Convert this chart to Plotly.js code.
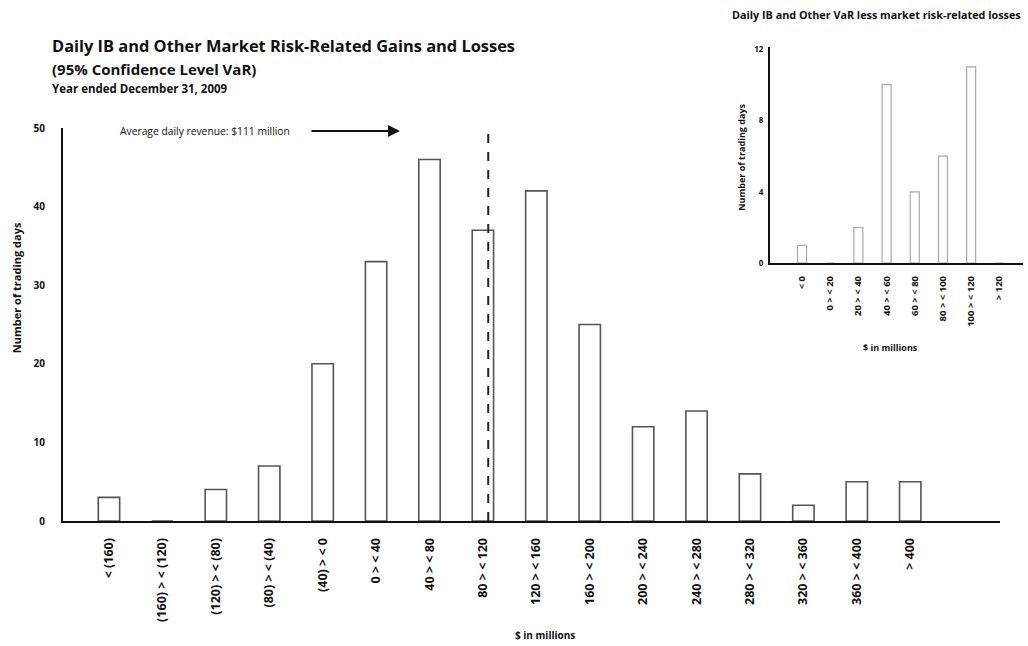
<!DOCTYPE html>
<html>
<head>
<meta charset="utf-8">
<script src="https://cdn.plot.ly/plotly-3.0.1.min.js"></script>
<style>html,body{margin:0;padding:0;background:#fff;}#chart{width:1028px;height:646px;}</style>
</head>
<body>
<div id="chart"></div>
<script>
const categories = ["< (160)", "(160) > < (120)", "(120) > < (80)", "(80) > < (40)", "(40) > < 0", "0 > < 40", "40 > < 80", "80 > < 120", "120 > < 160", "160 > < 200", "200 > < 240", "240 > < 280", "280 > < 320", "320 > < 360", "360 > < 400", "> 400"];
const tradingDays = [3, 0, 4, 7, 20, 33, 46, 37, 42, 25, 12, 14, 6, 2, 5, 5];
const yTicks = [0, 10, 20, 30, 40, 50];
const insetCategories = ["< 0", "0 > < 20", "20 > < 40", "40 > < 60", "60 > < 80", "80 > < 100", "100 > < 120", "> 120"];
const insetDays = [1, 0, 2, 10, 4, 6, 11, 0];
const insetTicks = [0, 4, 8, 12];
const avgRevenueLabel = "Average daily revenue: $111 million";
const avgRevenuePos = 7.1;

const F = "'Open Sans', Lato, sans-serif";
const INK = "#111";

const traces = [
  {type: "bar", x: categories, y: tradingDays, xaxis: "x", yaxis: "y", width: 0.4,
   marker: {color: "#fff", line: {color: "#555", width: 1.6}}, hoverinfo: "x+y"},
  {type: "bar", x: insetCategories, y: insetDays, xaxis: "x2", yaxis: "y2", width: 0.32,
   marker: {color: "#fff", line: {color: "#aaa", width: 1.2}}, hoverinfo: "x+y"}
];

const layout = {
  width: 1028, height: 646,
  margin: {l: 63, r: 5, t: 40, b: 125},
  paper_bgcolor: "#fff", plot_bgcolor: "rgba(0,0,0,0)",
  showlegend: false,
  font: {family: F, color: INK},
  xaxis: {type: "category", domain: [0, 0.976], range: [-0.861, 16.68], showline: true, linecolor: INK, linewidth: 2,
    ticks: "", tickangle: -90, tickfont: {family: F, size: 12.5, color: INK, weight: "bold"}, showgrid: false, zeroline: false,
    ticklabelstandoff: 10, fixedrange: true},
  yaxis: {domain: [0, 0.817], range: [0, 50], tickvals: yTicks, showline: true, linecolor: INK, linewidth: 2,
    ticks: "", tickfont: {family: F, size: 10, color: INK, weight: "bold"}, showgrid: false, zeroline: false,
    ticklabelstandoff: 14, fixedrange: true},
  xaxis2: {type: "category", anchor: "y2", domain: [0.7365, 1], range: [-1.135, 7.84], showline: true, linecolor: INK, linewidth: 2,
    ticks: "", tickangle: -90, tickfont: {family: F, size: 9.5, color: INK, weight: "bold"}, showgrid: false, zeroline: false,
    ticklabelstandoff: 7, fixedrange: true},
  yaxis2: {anchor: "x2", domain: [0.536, 0.985], range: [0, 12.1], tickvals: insetTicks, showline: true, linecolor: INK, linewidth: 2,
    ticks: "", tickfont: {family: F, size: 8, color: INK, weight: "bold"}, showgrid: false, zeroline: false,
    ticklabelstandoff: 3, fixedrange: true},
  shapes: [
    {type: "line", xref: "x", yref: "y", x0: avgRevenuePos, x1: avgRevenuePos, y0: 0, y1: 49.6,
     line: {color: "#222", width: 2, dash: "dash"}}
  ],
  annotations: [
    {xref: "paper", yref: "paper", x: -0.0135, y: 0.9896, xanchor: "left", yanchor: "middle", showarrow: false,
     text: "Daily IB and Other Market Risk-Related Gains and Losses", font: {family: F, size: 16.4, weight: "bold", color: INK}},
    {xref: "paper", yref: "paper", x: -0.0135, y: 0.9397, xanchor: "left", yanchor: "middle", showarrow: false,
     text: "(95% Confidence Level VaR)", font: {family: F, size: 15, weight: "bold", color: INK}},
    {xref: "paper", yref: "paper", x: -0.0135, y: 0.900, xanchor: "left", yanchor: "middle", showarrow: false,
     text: "Year ended December 31, 2009", font: {family: F, size: 11.5, weight: "bold", color: INK}},
    {xref: "paper", yref: "paper", x: 0.0573, y: 0.811, xanchor: "left", yanchor: "middle", showarrow: false,
     text: avgRevenueLabel, font: {family: F, size: 10.3, color: INK}},
    {xref: "paper", yref: "paper", x: 0.351, y: 0.811, ax: -90, ay: 0, showarrow: true, arrowhead: 2, arrowsize: 1.2,
     arrowwidth: 2, arrowcolor: INK, text: ""},
    {xref: "paper", yref: "paper", x: -0.049, y: 0.486, xanchor: "center", yanchor: "middle", textangle: -90, showarrow: false,
     text: "Number of trading days", font: {family: F, size: 11, weight: "bold", color: INK}},
    {xref: "paper", yref: "paper", x: 0.502, y: -0.237, xanchor: "center", yanchor: "middle", showarrow: false,
     text: "$ in millions", font: {family: F, size: 10, weight: "bold", color: INK}},
    {xref: "paper", yref: "paper", x: 0.8469, y: 1.054, xanchor: "center", yanchor: "middle", showarrow: false,
     text: "Daily IB and Other VaR less market risk-related losses", font: {family: F, size: 10.8, weight: "bold", color: INK}},
    {xref: "paper", yref: "paper", x: 0.7073, y: 0.755, xanchor: "center", yanchor: "middle", textangle: -90, showarrow: false,
     text: "Number of trading days", font: {family: F, size: 9, weight: "bold", color: INK}},
    {xref: "paper", yref: "paper", x: 0.8615, y: 0.36, xanchor: "center", yanchor: "middle", showarrow: false,
     text: "$ in millions", font: {family: F, size: 9, weight: "bold", color: INK}}
  ]
};

Plotly.newPlot("chart", traces, layout, {displayModeBar: false, staticPlot: true});
</script>
</body>
</html>
